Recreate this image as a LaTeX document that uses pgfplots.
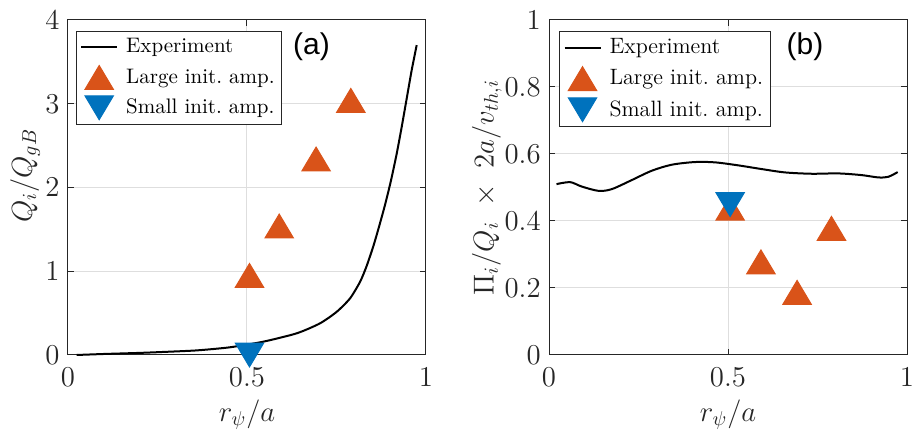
\documentclass[border=0pt]{standalone}
\usepackage{fontspec}
\usepackage{pgfplots}
\pgfplotsset{compat=1.18}
\newfontfamily\hv{Liberation Sans}

\definecolor{mlorange}{rgb}{0.85,0.325,0.098}
\definecolor{mlblue}{rgb}{0,0.447,0.741}
\definecolor{axc}{rgb}{0.15,0.15,0.15}
\definecolor{gridc}{rgb}{0.87,0.87,0.87}

% triangles centred on their bounding box
\pgfdeclareplotmark{tup}{%
  \pgfpathmoveto{\pgfqpoint{0pt}{0.84\pgfplotmarksize}}%
  \pgfpathlineto{\pgfqpoint{-\pgfplotmarksize}{-0.84\pgfplotmarksize}}%
  \pgfpathlineto{\pgfqpoint{\pgfplotmarksize}{-0.84\pgfplotmarksize}}%
  \pgfpathclose\pgfusepathqfillstroke}
\pgfdeclareplotmark{tdown}{%
  \pgfpathmoveto{\pgfqpoint{0pt}{-0.84\pgfplotmarksize}}%
  \pgfpathlineto{\pgfqpoint{-\pgfplotmarksize}{0.84\pgfplotmarksize}}%
  \pgfpathlineto{\pgfqpoint{\pgfplotmarksize}{0.84\pgfplotmarksize}}%
  \pgfpathclose\pgfusepathqfillstroke}

\pgfplotsset{
  panel/.style={
    scale only axis, width=179pt, height=167.5pt,
    xmin=0, xmax=1, xtick={0,0.5,1},
    axis line style={axc, line width=0.5pt},
    tick style={axc, line width=0.5pt},
    tick align=inside, major tick length=3pt,
    grid=major, major grid style={gridc, line width=0.5pt},
    tick label style={font=\fontsize{13.5}{16}\selectfont, text=axc},
    xticklabel style={anchor=base, yshift=-16pt},
    yticklabel style={anchor=east, inner sep=0pt, xshift=-4pt},
    label style={font=\fontsize{14}{17}\selectfont, text=axc},
    xlabel={$r_\psi/a$},
    xlabel style={at={(axis description cs:0.5,-0.199)}, anchor=base},
    clip=false,
    legend cell align=left,
    legend style={anchor=north west, draw=axc, line width=0.5pt, fill=white,
      inner xsep=2pt, inner ysep=2.25pt, column sep=2.5pt,
      nodes={inner sep=1.5pt}},
  },
  expline/.style={black, line width=1pt,
    legend image code/.code={\draw[##1] (0pt,0pt) -- (18pt,0pt);}},
  large/.style={only marks, mark=tup, mark size=7.1pt,
    mark options={fill=mlorange, draw=mlorange, line width=0.5pt},
    legend image code/.code={\draw[##1] plot coordinates {(9pt,0pt)};}},
  small/.style={only marks, mark=tdown, mark size=7.1pt,
    mark options={fill=mlblue, draw=mlblue, line width=0.5pt},
    legend image code/.code={\draw[##1] plot coordinates {(9pt,0pt)};}},
}

\begin{document}
\begin{tikzpicture}
\useasboundingbox (0pt,0pt) rectangle (456pt,216pt);

% (a) heat flux
\begin{axis}[panel, at={(34pt,38.5pt)}, anchor=south west,
  ymin=0, ymax=4, ytick={0,1,2,3,4},
  ylabel={$Q_i/Q_{gB}$},
  ylabel style={at={(axis description cs:-0.101,0.535)}, anchor=base},
  legend style={at={(0.0215,0.968)}, row sep=3.25pt,
    font=\fontsize{10.5}{12.5}\selectfont}]
\addplot[expline, smooth, tension=0.4] coordinates {
  (0.024,0.0) (0.10,0.012) (0.20,0.025) (0.27,0.037) (0.36,0.055)
  (0.4525,0.092) (0.5455,0.159) (0.639,0.259) (0.704,0.378)
  (0.751,0.517) (0.788,0.677) (0.816,0.875) (0.834,1.06) (0.853,1.30)
  (0.870,1.55) (0.886,1.80) (0.902,2.08) (0.918,2.40) (0.932,2.72)
  (0.946,3.06) (0.960,3.40) (0.974,3.70)};
\addlegendentry{Experiment}
\addplot[large] coordinates {(0.507,0.95) (0.59,1.54) (0.693,2.34) (0.79,3.04)};
\addlegendentry{Large init.~amp.}
\addplot[small] coordinates {(0.507,0.0)};
\addlegendentry{Small init.~amp.}
\node[font=\hv\fontsize{15}{18}\selectfont] at (axis cs:0.68,3.68) {(a)};
\end{axis}

% (b) momentum-to-heat flux ratio
\begin{axis}[panel, at={(274.5pt,38.5pt)}, anchor=south west,
  ymin=0, ymax=1, ytick={0,0.2,0.4,0.6,0.8,1},
  ylabel={$\Pi_i/Q_i~\times~2a/v_{th,i}$},
  ylabel style={at={(axis description cs:-0.155,0.5)}, anchor=base},
  legend style={at={(0.028,0.968)}, row sep=3.35pt,
    font=\fontsize{11.1}{13}\selectfont}]
\addplot[expline, smooth] coordinates {
  (0.021,0.510) (0.059,0.516) (0.091,0.503) (0.138,0.490) (0.175,0.495)
  (0.231,0.522) (0.287,0.550) (0.343,0.568) (0.408,0.576) (0.464,0.575)
  (0.529,0.566) (0.594,0.555) (0.659,0.545) (0.734,0.541) (0.808,0.542)
  (0.873,0.537) (0.920,0.530) (0.948,0.532) (0.974,0.546)};
\addlegendentry{Experiment}
\addplot[large] coordinates {(0.506,0.438) (0.592,0.278) (0.693,0.187) (0.789,0.378)};
\addlegendentry{Large init.~amp.}
\addplot[small] coordinates {(0.506,0.449)};
\addlegendentry{Small init.~amp.}
\node[font=\hv\fontsize{15}{18}\selectfont] at (axis cs:0.715,0.92) {(b)};
\end{axis}
\end{tikzpicture}
\end{document}
